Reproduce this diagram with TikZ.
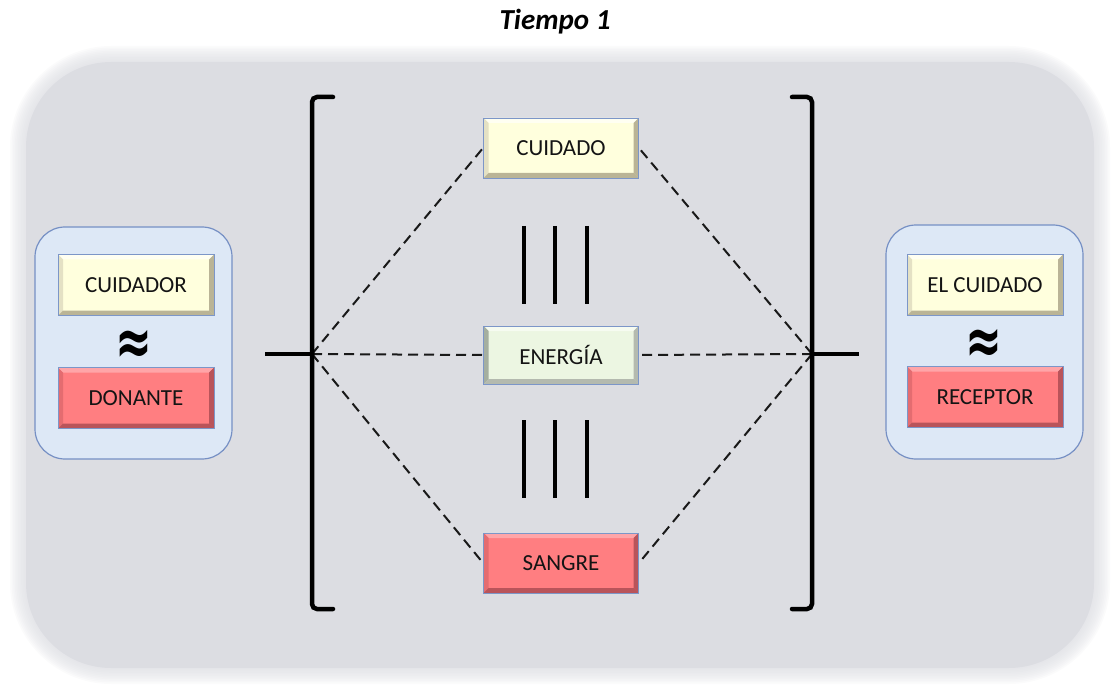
\documentclass[tikz,border=0pt]{standalone}
\usepackage{fontspec}
\setmainfont{Carlito}
\newfontfamily\symfont{DejaVu Sans}
\usepackage{graphicx}
\definecolor{bg}{RGB}{220,221,226}
\definecolor{bordc}{RGB}{124,150,200}
\definecolor{panelf}{RGB}{221,232,246}
\definecolor{paneld}{RGB}{118,144,196}
\definecolor{ylw}{RGB}{255,255,221}
\definecolor{ylwL}{RGB}{255,255,242}
\definecolor{ylwM}{RGB}{228,225,196}
\definecolor{ylwD}{RGB}{186,180,150}
\definecolor{rd}{RGB}{255,126,129}
\definecolor{rdL}{RGB}{255,165,168}
\definecolor{rdM}{RGB}{228,108,112}
\definecolor{rdD}{RGB}{185,84,90}
\definecolor{gr}{RGB}{236,246,226}
\definecolor{grL}{RGB}{246,251,241}
\definecolor{grM}{RGB}{165,175,160}
\definecolor{grD}{RGB}{180,186,175}
\definecolor{txt}{RGB}{20,20,20}
\pgfdeclarelayer{bgl}
\pgfdeclarelayer{dashl}
\pgfsetlayers{bgl,dashl,main}
\tikzset{
  bev/.style n args={4}{fill=#1, path picture={
    \fill[#2] (path picture bounding box.north west) -- (path picture bounding box.north east) -- ([xshift=-5pt,yshift=-5pt]path picture bounding box.north east) -- ([xshift=5pt,yshift=-5pt]path picture bounding box.north west) -- cycle;
    \fill[#3] (path picture bounding box.north west) -- ([xshift=5pt,yshift=-5pt]path picture bounding box.north west) -- ([xshift=5pt,yshift=5pt]path picture bounding box.south west) -- (path picture bounding box.south west) -- cycle;
    \fill[#4] (path picture bounding box.north east) -- (path picture bounding box.south east) -- ([xshift=-5pt,yshift=5pt]path picture bounding box.south east) -- ([xshift=-5pt,yshift=-5pt]path picture bounding box.north east) -- cycle;
    \fill[#4] (path picture bounding box.south west) -- (path picture bounding box.south east) -- ([xshift=-5pt,yshift=5pt]path picture bounding box.south east) -- ([xshift=5pt,yshift=5pt]path picture bounding box.south west) -- cycle;
  }},
  boxy/.style={draw=bordc, line width=0.9pt, minimum width=155pt, minimum height=60pt, inner sep=0pt, text=txt, font=\fontsize{23}{27}\selectfont},
  yb/.style={boxy, bev={ylw}{ylwL}{ylwM}{ylwD}},
  rb/.style={boxy, bev={rd}{rdL}{rdM}{rdD}},
  gb/.style={boxy, bev={gr}{grL}{grM}{grD}},
  panel/.style={draw=paneld, fill=panelf, line width=1.2pt, rounded corners=30pt},
  dline/.style={line width=2pt, dash pattern=on 10pt off 6pt, black!90},
  thick4/.style={line width=4.5pt, black},
  approx/.style={font=\symfont\bfseries\fontsize{44}{44}\selectfont, inner sep=0pt}
}
\begin{document}
\begin{tikzpicture}[x=1pt,y=-1pt]
\useasboundingbox (0,0) rectangle (1114,687);
\begin{pgfonlayer}{bgl}
\foreach \i in {10,9,...,1} {
  \pgfmathsetmacro\rr{85+1.6*\i}
  \fill[bg, opacity=0.12, rounded corners=\rr pt] ({26-1.6*\i},{62-1.6*\i}) rectangle ({1094+1.6*\i},{668+1.6*\i});
}
\fill[bg, rounded corners=85pt] (26,62) rectangle (1094,668);
\end{pgfonlayer}

% title
\node[font=\bfseries\itshape\fontsize{29}{32}\selectfont, text=black] (title) at (555,22) {Tiempo 1};

% side panels
\draw[panel] (35,227) rectangle (232,459);
\draw[panel] (886,225) rectangle (1083,459);

% central boxes
\node[yb] (cuidado) at (561,148) {CUIDADO};
\node[gb, minimum height=58pt] (energia) at (561,355) {ENERGÍA};
\node[rb] (sangre) at (561,563) {SANGRE};

% side boxes
\node[yb, minimum width=156pt, minimum height=61pt] (cuidador) at (136,285) {CUIDADOR};
\node[rb, minimum width=156pt, minimum height=61pt] (donante) at (136,398) {DONANTE};
\node[approx] (ap1) at (134,347) {\scalebox{1}[1.5]{≈}};
\node[yb, minimum width=156pt, minimum height=61pt] (elcuidado) at (985,285) {EL CUIDADO};
\node[rb, minimum width=156pt, minimum height=61pt] (receptor) at (985,397) {RECEPTOR};
\node[approx] (ap2) at (984,346) {\scalebox{1}[1.5]{≈}};

% junction points
\coordinate (Lj) at (312,354);
\coordinate (Rj) at (812,354);
\coordinate (Ls) at (265,354);
\coordinate (Rs) at (859,354);

% dashed connectors (behind the boxes)
\begin{pgfonlayer}{dashl}
\draw[dline] (Lj) -- (cuidado.west);
\draw[dline] (Lj) -- (energia.west);
\draw[dline] (Lj) -- (sangre.west);
\draw[dline] (Rj) -- (cuidado.east);
\draw[dline] (Rj) -- (energia.east);
\draw[dline] (Rj) -- (sangre.east);
\end{pgfonlayer}

% brackets
\draw[thick4, rounded corners=5pt, line cap=round] (333,97) -- (312,97) -- (312,609) -- (333,609);
\draw[thick4, rounded corners=5pt, line cap=round] (792,97) -- (812,97) -- (812,609) -- (792,609);
\draw[thick4] (Ls) -- (Lj);
\draw[thick4] (Rj) -- (Rs);

% equivalence bars
\foreach \xx in {524,555,587} {
  \draw[line width=4.5pt] (\xx,226) -- (\xx,304);
  \draw[line width=4.5pt] (\xx,420) -- (\xx,498);
}
\end{tikzpicture}
\end{document}
